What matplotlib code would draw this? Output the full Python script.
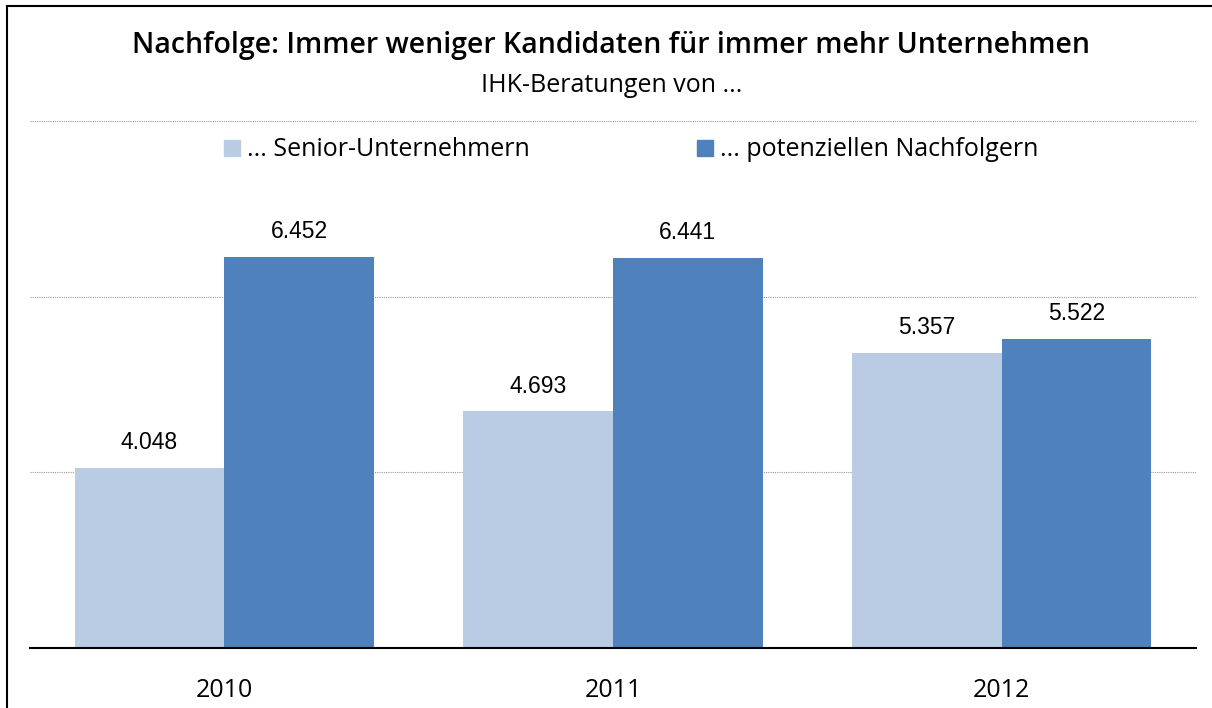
import matplotlib
matplotlib.use("Agg")
import matplotlib.pyplot as plt
from matplotlib.lines import Line2D

years = ["2010", "2011", "2012"]
senior = [4048, 4693, 5357]
nachfolger = [6452, 6441, 5522]
series_labels = ["... Senior-Unternehmern", "... potenziellen Nachfolgern"]
colors = ["#b9cce4", "#4f81bd"]

plt.rcParams['font.family'] = ['Open Sans', 'DejaVu Sans']

fig = plt.figure(figsize=(12.12, 7.08), dpi=100)
ax = fig.add_axes([30/1212, 60/708, 1166/1212, 527/708])

w = 0.385
x = list(range(len(years)))
b1 = ax.bar([i - w/2 for i in x], senior, width=w, color=colors[0], zorder=3)
b2 = ax.bar([i + w/2 for i in x], nachfolger, width=w, color=colors[1], zorder=3)

def fmt(v):
    return f"{v:,}".replace(",", ".")

for bars, vals in ((b1, senior), (b2, nachfolger)):
    for r, v in zip(bars, vals):
        ax.annotate(fmt(v), (r.get_x() + r.get_width()/2, v), xytext=(0, 10),
                    textcoords="offset points", ha="center", va="bottom", fontsize=16.5,
                    family=["Liberation Sans", "DejaVu Sans"])

ax.set_xlim(-0.5, 2.5)
ax.set_ylim(2000, 8000)
ax.set_yticks([2000, 4000, 6000, 8000])
ax.yaxis.grid(True, color="#999999", linestyle=(0, (1, 1)), linewidth=0.8, zorder=0)
ax.tick_params(axis="y", left=False, labelleft=False)
ax.tick_params(axis="x", bottom=False, labelsize=18, pad=18)
ax.set_xticks(x)
ax.set_xticklabels(years)
for s in ["top", "right", "left"]:
    ax.spines[s].set_visible(False)
ax.spines["bottom"].set_color("black")
ax.spines["bottom"].set_linewidth(1.5)
ax.spines["bottom"].set_zorder(4)

handles = [Line2D([], [], marker="s", linestyle="none", markersize=11, color=c) for c in colors]
fig.legend(handles, series_labels, loc="center", bbox_to_anchor=(630/1212, 1 - 150/708), ncol=2,
           frameon=False, fontsize=18, handletextpad=0.2, columnspacing=6.6, handlelength=0.8)

fig.text(611/1212, 1 - 45/708, "Nachfolge: Immer weniger Kandidaten für immer mehr Unternehmen",
         ha="center", va="center", fontsize=20.5, fontweight="semibold")
fig.text(612/1212, 1 - 86/708, "IHK-Beratungen von ...", ha="center", va="center", fontsize=18)

# frame lines (left and top)
fig.add_artist(Line2D([7/1212, 7/1212], [0, 1 - 6/708], transform=fig.transFigure, color="black", linewidth=1.5))
fig.add_artist(Line2D([7/1212, 1], [1 - 6/708, 1 - 6/708], transform=fig.transFigure, color="black", linewidth=1.5))

fig.savefig("out.png", dpi=100)
